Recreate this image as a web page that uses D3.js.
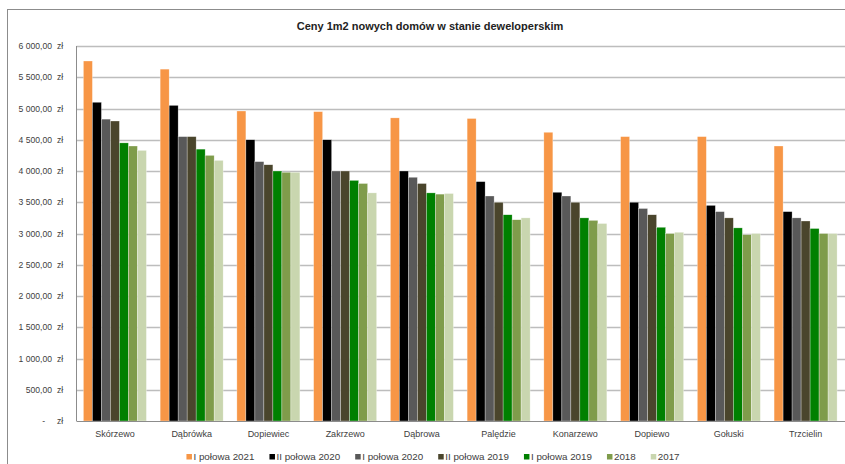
<!DOCTYPE html>
<html><head><meta charset="utf-8">
<script src="https://cdn.jsdelivr.net/npm/d3@7"></script>
<style>html,body{margin:0;padding:0;background:#fff;}svg{display:block;font-family:"Liberation Sans",Arial,sans-serif;}</style>
</head><body>
<svg id="c" width="845" height="464"></svg>
<script>
const title = "Ceny 1m2 nowych domów w stanie deweloperskim";
const categories = ["Skórzewo","Dąbrówka","Dopiewiec","Zakrzewo","Dąbrowa","Palędzie","Konarzewo","Dopiewo","Gołuski","Trzcielin"];
const seriesNames = ["I połowa 2021","II połowa 2020","I połowa 2020","II połowa 2019","I połowa 2019","2018","2017"];
const seriesColors = ["#F79646","#000000","#595959","#4A452C","#008000","#7F9C4B","#C9D6AF"];
const s2021a = [5760,5630,4960,4950,4850,4840,4620,4550,4550,4400];
const s2020b = [5100,5050,4500,4500,4000,3830,3660,3500,3450,3350];
const s2020a = [4830,4550,4150,4000,3900,3600,3600,3400,3350,3250];
const s2019b = [4800,4550,4100,4000,3800,3500,3500,3300,3250,3200];
const s2019a = [4450,4350,4000,3850,3650,3300,3250,3100,3090,3080];
const s2018  = [4400,4250,3980,3800,3630,3220,3210,3000,2980,3000];
const s2017  = [4330,4170,3980,3650,3640,3250,3160,3020,3000,3000];
const seriesValues = [s2021a,s2020b,s2020a,s2019b,s2019a,s2018,s2017];
const yTicks = [0,500,1000,1500,2000,2500,3000,3500,4000,4500,5000,5500,6000];

const svg = d3.select("#c");
const L = 76.5, R = 844, T = 46, B = 421;

// outer chart border
svg.append("rect").attr("x",7.5).attr("y",9.5).attr("width",900).attr("height",500)
  .attr("fill","none").attr("stroke","#8c8c8c").attr("stroke-width",1);

svg.append("text").attr("x",430).attr("y",30).attr("text-anchor","middle")
  .attr("font-size",11).attr("font-weight","bold").attr("fill","#222").text(title);

const y = d3.scaleLinear().domain([0,6000]).range([B,T]);
const x0 = d3.scaleBand().domain(categories).range([L,R]).paddingInner(0.179).paddingOuter(0.09);
const x1 = d3.scaleBand().domain(d3.range(seriesNames.length)).range([0,x0.bandwidth()]).padding(0);

// gridlines
svg.append("g").selectAll("line").data(yTicks.filter(d=>d>0)).join("line")
  .attr("x1",L).attr("x2",R+1).attr("y1",d=>Math.round(y(d))+0.5).attr("y2",d=>Math.round(y(d))+0.5)
  .attr("stroke","#bdbdbd").attr("stroke-width",1.4);

// bars
const g = svg.append("g");
categories.forEach((c,ci)=>{
  seriesValues.forEach((vals,si)=>{
    g.append("rect").attr("x",x0(c)+x1(si)).attr("width",x1.bandwidth())
      .attr("y",y(vals[ci])).attr("height",B-y(vals[ci]))
      .attr("fill",seriesColors[si]).attr("stroke","#ffffff").attr("stroke-width",0.5).attr("stroke-opacity",0.6);
  });
});

// axes lines
svg.append("line").attr("x1",L).attr("x2",L).attr("y1",T).attr("y2",B).attr("stroke","#8c8c8c");
svg.append("line").attr("x1",L).attr("x2",R+1).attr("y1",B+0.5).attr("y2",B+0.5).attr("stroke","#8c8c8c");

// y labels (accounting format)
const fmt = d => { const s = d3.format(",.2f")(d); return s.replace(/,/g," ").replace(".",","); };
const yl = svg.append("g").attr("font-size",8.6).attr("fill","#404040");
yTicks.forEach(t=>{
  yl.append("text").attr("x", t===0?45:52).attr("y",y(t)+3).attr("text-anchor","end").text(t===0?"-":fmt(t));
  yl.append("text").attr("x",57).attr("y",y(t)+3).text("zł");
});

// x labels
svg.append("g").selectAll("text").data(categories).join("text")
  .attr("x",d=>x0(d)+x0.bandwidth()/2).attr("y",437).attr("text-anchor","middle")
  .attr("font-size",9).attr("fill","#404040").text(d=>d);

// legend
const lg = svg.append("g").attr("font-size",9.8).attr("fill","#404040");
let items = [];
let cx = 0;
seriesNames.forEach((n,i)=>{
  const it = lg.append("g");
  it.append("rect").attr("x",0).attr("y",-6).attr("width",5.5).attr("height",5.5).attr("fill",seriesColors[i]);
  const t = it.append("text").attr("x",7).attr("y",0).text(n);
  const w = t.node().getComputedTextLength();
  items.push({it,cx});
  cx += 7 + w + 15;
});
const total = cx - 15;
const start = 433 - total/2;
items.forEach(o=>o.it.attr("transform",`translate(${start+o.cx},460)`));
</script>
</body></html>
